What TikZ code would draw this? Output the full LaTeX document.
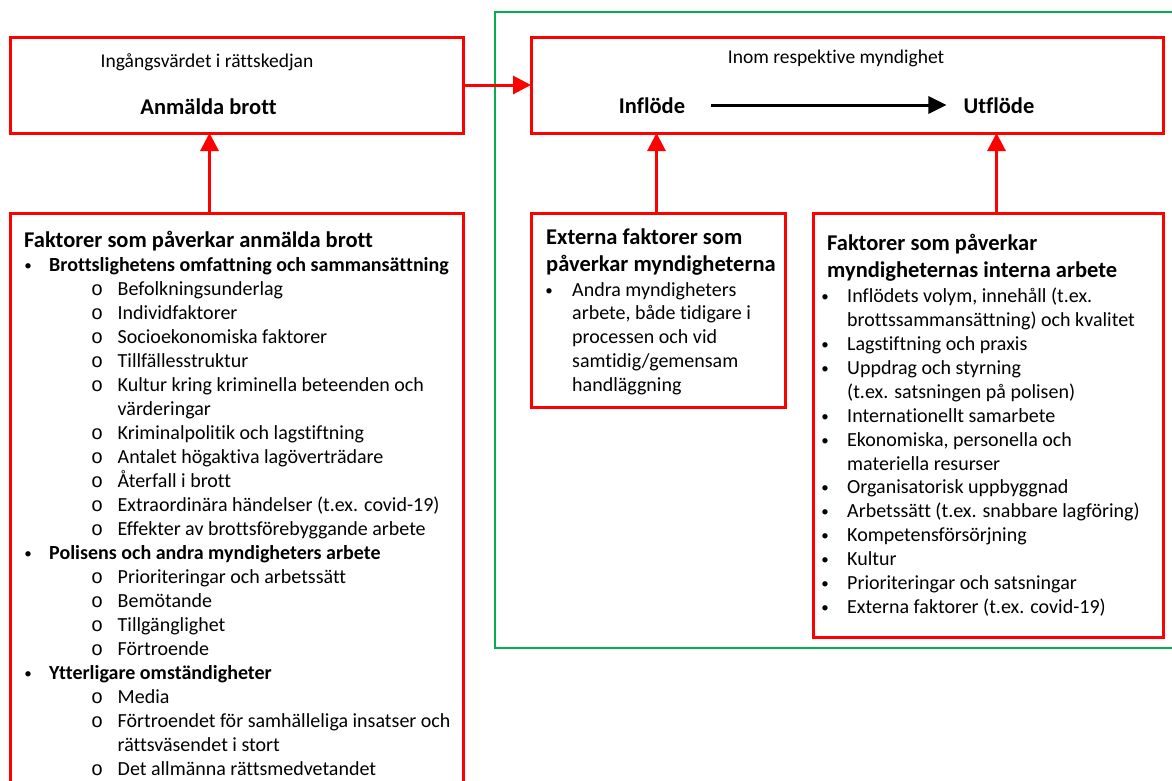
\documentclass[tikz,border=0pt]{standalone}
\usepackage{fontspec}
\setmainfont{Carlito}[Ligatures=NoCommon]
\newfontfamily\bulletmono{Liberation Mono}
\usetikzlibrary{arrows.meta,calc}
\definecolor{boxred}{RGB}{255,0,0}
\definecolor{framegreen}{RGB}{0,176,80}
\begin{document}
\begin{tikzpicture}[x=1pt,y=-1pt,
  redbox/.style={draw=boxred, line width=3pt, rectangle, inner sep=0pt, outer sep=0pt},
  greenbox/.style={draw=framegreen, line width=2.5pt, rectangle, inner sep=0pt, outer sep=0pt},
  redarrow/.style={draw=boxred, line width=3pt, -{Triangle[length=18pt,width=18pt]}, boxred},
  blackarrow/.style={draw=black, line width=3pt, -{Triangle[length=18pt,width=17pt]}},
  txt/.style={font=\fontsize{20}{24}\selectfont, inner sep=0pt, anchor=base west},
  txtb/.style={font=\fontsize{20}{24}\selectfont\bfseries, inner sep=0pt, anchor=base west},
  ttl/.style={font=\fontsize{22.5}{27}\selectfont\bfseries, inner sep=0pt, anchor=base west},
  bul/.style={font=\fontsize{15}{24}\selectfont, inner sep=0pt, anchor=base},
  obul/.style={font=\fontsize{20}{24}\bulletmono, inner sep=0pt, anchor=base}
]
\clip (0,0) rectangle (1172,780);
% frame
\node[greenbox, minimum width=690pt, minimum height=636pt] (G) at (840,330) {};
% boxes
\node[redbox, minimum width=453pt, minimum height=96pt] (A) at (236.5,85) {};
\node[redbox, minimum width=632pt, minimum height=96pt] (B) at (847,85) {};
\node[redbox, minimum width=453pt, minimum height=587pt] (C) at (236.5,506.5) {};
\node[redbox, minimum width=254pt, minimum height=194pt] (D) at (658,310) {};
\node[redbox, minimum width=350pt, minimum height=424pt] (E) at (988,425) {};
% connectors
\draw[redarrow] (A.east) -- (B.west);
\draw[redarrow] ([xshift=-27pt]C.north) -- ([xshift=-27pt]A.south);
\draw[redarrow] ([xshift=-1.5pt]D.north) -- ([xshift=-1.5pt]D.north |- B.south);
\draw[redarrow] ([xshift=8.5pt]E.north) -- ([xshift=8.5pt]E.north |- B.south);
% top box texts
\node[font=\fontsize{19.5}{24}\selectfont, inner sep=0pt, anchor=base] (a1) at (207,67) {Ingångsvärdet i rättskedjan};
\node[font=\fontsize{22.5}{27}\selectfont\bfseries, inner sep=0pt, anchor=base] (a2) at (208.5,114) {Anmälda brott};
\node[font=\fontsize{19.5}{24}\selectfont, inner sep=0pt, anchor=base] (b1) at (836,63) {Inom respektive myndighet};
\node[font=\fontsize{22.5}{27}\selectfont\bfseries, inner sep=0pt, anchor=base] (infl) at (652,113) {Inflöde};
\node[font=\fontsize{22.5}{27}\selectfont\bfseries, inner sep=0pt, anchor=base] (utfl) at (999,113) {Utflöde};
\draw[blackarrow] ([shift={(26pt,8pt)}]infl.base east) -- ([shift={(-17pt,8pt)}]utfl.base west);
% left box
\node[ttl] (ct) at (24,247) {Faktorer som påverkar anmälda brott};
\foreach \k/\t in {0/Brottslighetens omfattning och sammansättning, 12/Polisens och andra myndigheters arbete, 17/Ytterligare omständigheter}
  \node[txtb] (cm\k) at (49,{271+24*\k}) {\t};
\foreach \k in {0,12,17}
  \node[bul] (cb\k) at (28,{270+24*\k}) {•};
\foreach \k/\t in {1/Befolkningsunderlag, 2/Individfaktorer, 3/Socioekonomiska faktorer, 4/Tillfällesstruktur, 5/Kultur kring kriminella beteenden och, 6/värderingar, 7/Kriminalpolitik och lagstiftning, 8/Antalet högaktiva lagöverträdare, 9/Återfall i brott, 10/Extraordinära händelser (t.ex. covid-19), 11/Effekter av brottsförebyggande arbete, 13/Prioriteringar och arbetssätt, 14/Bemötande, 15/Tillgänglighet, 16/Förtroende, 18/Media, 19/Förtroendet för samhälleliga insatser och, 20/rättsväsendet i stort, 21/Det allmänna rättsmedvetandet}
  \node[txt] (cs\k) at (117.5,{271+24*\k}) {\t};
\foreach \k in {1,2,3,4,5,7,8,9,10,11,13,14,15,16,18,19,21}
  \node[obul] (co\k) at (97,{271+24*\k}) {o};
% box D
\node[ttl] (dt1) at (546,244) {Externa faktorer som};
\node[ttl] (dt2) at (546,271) {påverkar myndigheterna};
\node[bul] (db0) at (549,295) {•};
\node[txt] (ds0) at (572,296) {Andra myndigheters};
\node[txt] (ds1) at (572,319.8) {arbete, både tidigare i};
\node[txt] (ds2) at (572,343.6) {processen och vid};
\node[txt] (ds3) at (572,367.4) {samtidig/gemensam};
\node[txt] (ds4) at (572,391.2) {handläggning};
% box E
\node[ttl] (et1) at (827,250) {Faktorer som påverkar};
\node[ttl] (et2) at (827,277) {myndigheternas interna arbete};
\foreach \k/\t in {0/{Inflödets volym, innehåll (t.ex.}, 1/{brottssammansättning) och kvalitet}, 2/Lagstiftning och praxis, 3/Uppdrag och styrning, 4/{(t.ex. satsningen på polisen)}, 5/Internationellt samarbete, 6/{Ekonomiska, personella och}, 7/materiella resurser, 8/Organisatorisk uppbyggnad, 9/{Arbetssätt (t.ex. snabbare lagföring)}, 10/Kompetensförsörjning, 11/Kultur, 12/Prioriteringar och satsningar, 13/{Externa faktorer (t.ex. covid-19)}}
  \node[txt] (es\k) at (847,{302.7+23.9*\k}) {\t};
\foreach \k in {0,2,3,5,6,8,9,10,11,12,13}
  \node[bul] (eb\k) at (825,{301.7+23.9*\k}) {•};
\end{tikzpicture}
\end{document}
